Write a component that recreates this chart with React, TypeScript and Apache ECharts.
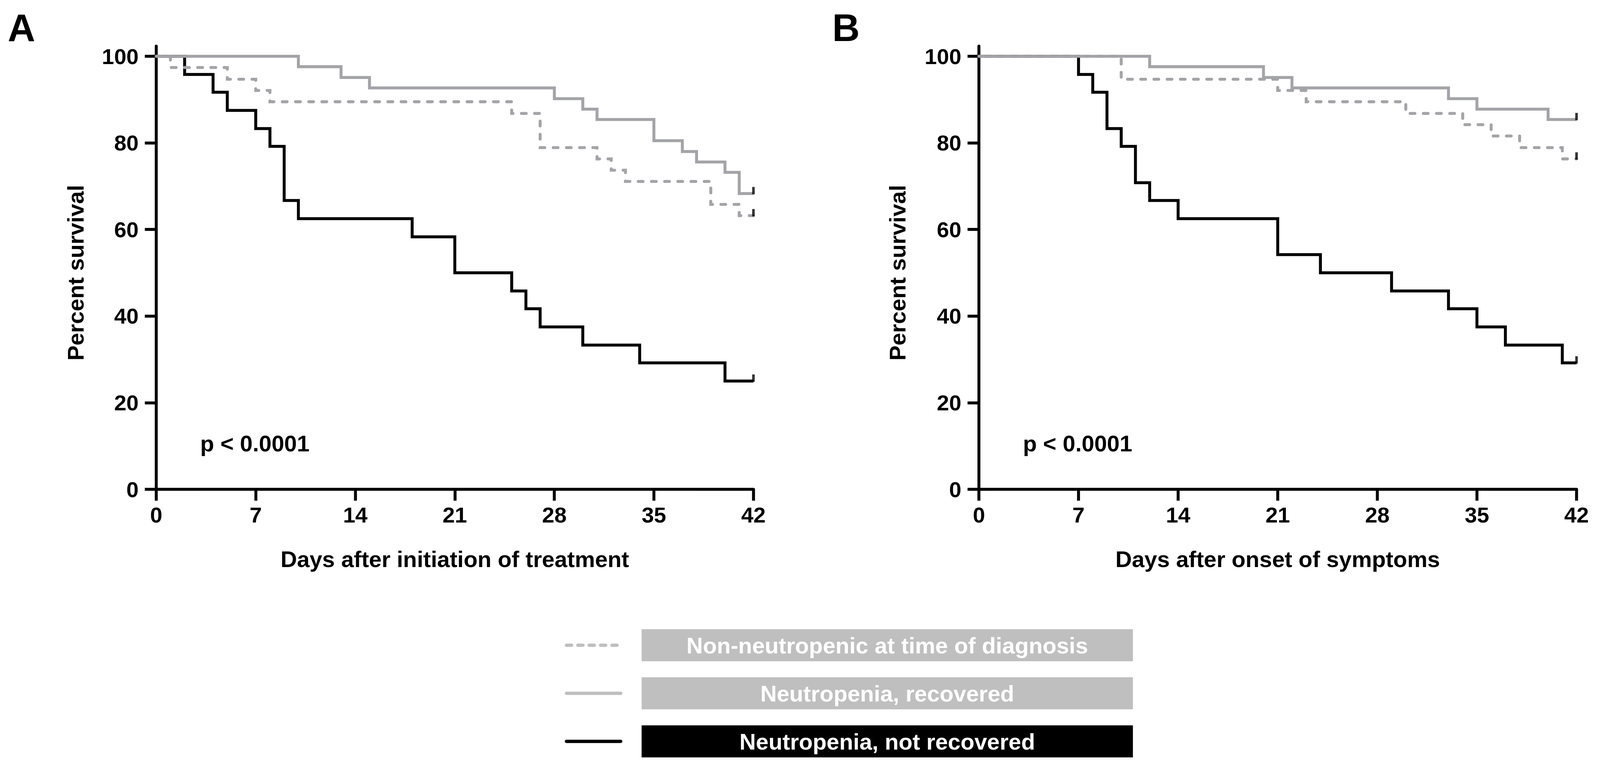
import React, { useEffect, useRef } from "react";
import * as echarts from "echarts";

const FONT = '"Liberation Sans", Arial, sans-serif';
const GRAY = "#a3a4a8";
const LEGEND_GRAY = "#bfbfbf";

const seriesNames = [
  "Non-neutropenic at time of diagnosis",
  "Neutropenia, recovered",
  "Neutropenia, not recovered",
];

const xTicks = [0, 7, 14, 21, 28, 35, 42];
const yTicks = [0, 20, 40, 60, 80, 100];

// Panel A: days after initiation of treatment
const daysA_non = [0, 1, 5, 7, 8, 25, 27, 31, 32, 33, 39, 41, 42];
const survA_non = [100, 97.4, 94.7, 92.1, 89.5, 86.8, 78.9, 76.3, 73.7, 71.1, 65.8, 63.2, 63.2];
const daysA_rec = [0, 10, 13, 15, 28, 30, 31, 35, 37, 38, 40, 41, 42];
const survA_rec = [100, 97.6, 95.1, 92.7, 90.2, 87.8, 85.4, 80.5, 78.0, 75.6, 73.2, 68.3, 68.3];
const daysA_not = [0, 2, 4, 5, 7, 8, 9, 10, 18, 21, 25, 26, 27, 30, 34, 40, 42];
const survA_not = [100, 95.8, 91.7, 87.5, 83.3, 79.2, 66.7, 62.5, 58.3, 50.0, 45.8, 41.7, 37.5, 33.3, 29.2, 25.0, 25.0];

// Panel B: days after onset of symptoms
const daysB_non = [0, 10, 21, 23, 30, 34, 36, 38, 41, 42];
const survB_non = [100, 94.7, 92.1, 89.5, 86.8, 84.2, 81.6, 78.9, 76.3, 76.3];
const daysB_rec = [0, 12, 20, 22, 33, 35, 40, 42];
const survB_rec = [100, 97.6, 95.1, 92.7, 90.2, 87.8, 85.4, 85.4];
const daysB_not = [0, 7, 8, 9, 10, 11, 12, 14, 21, 24, 29, 33, 35, 37, 41, 42];
const survB_not = [100, 95.8, 91.7, 83.3, 79.2, 70.8, 66.7, 62.5, 54.2, 50.0, 45.8, 41.7, 37.5, 33.3, 29.2, 29.2];

const xTitles = ["Days after initiation of treatment", "Days after onset of symptoms"];
const yTitle = "Percent survival";
const pText = "p < 0.0001";
const panelLetters = ["A", "B"];

const pairs = (d: number[], s: number[]) => d.map((x, i) => [x, s[i]]);
const last = (s: number[]) => s[s.length - 1];

export default function App() {
  const ref = useRef<HTMLDivElement>(null);
  useEffect(() => {
    document.body.style.margin = "0";
    const el = ref.current!;
    const W = el.clientWidth || 4364;
    const H = el.clientHeight || 1960;
    const sx = W / 4364;
    const sy = H / 1960;
    const s = Math.min(sx, sy);
    const X = (v: number) => v * sx;
    const Y = (v: number) => v * sy;
    const S = (v: number) => v * s;

    const chart = echarts.init(el, null, { renderer: "svg", width: W, height: H });

    const grids = [
      { left: X(426), top: Y(118), width: X(1629), height: Y(1134) },
      { left: X(2670), top: Y(118), width: X(1630), height: Y(1134) },
    ];

    const xAxis = [0, 1].map((g) => ({
      type: "value",
      gridIndex: g,
      min: xTicks[0],
      max: xTicks[xTicks.length - 1],
      interval: 7,
      axisLine: { show: true, lineStyle: { color: "#000", width: S(8) } },
      axisTick: { show: true, length: S(31), lineStyle: { color: "#000", width: S(8) } },
      axisLabel: { margin: S(40), color: "#000", fontSize: S(60), fontWeight: "bold", fontFamily: FONT },
      splitLine: { show: false },
    }));
    const yAxis = [0, 1].map((g) => ({
      type: "value",
      gridIndex: g,
      min: 0,
      max: 102.35,
      interval: 20,
      axisLine: { show: true, lineStyle: { color: "#000", width: S(8) } },
      axisTick: { show: true, length: S(31), lineStyle: { color: "#000", width: S(8) }, customValues: yTicks },
      axisLabel: { margin: S(48), color: "#000", fontSize: S(60), fontWeight: "bold", fontFamily: FONT, customValues: yTicks },
      splitLine: { show: false },
    }));

    const stepLine = (name: string, g: number, data: number[][], color: string, dashed: boolean) => ({
      name,
      type: "line",
      xAxisIndex: g,
      yAxisIndex: g,
      step: "end",
      symbol: "none",
      clip: false,
      data,
      lineStyle: {
        color,
        width: S(8),
        type: dashed ? [S(13), S(23)] : "solid",
        cap: dashed ? "round" : "butt",
        join: "miter",
      },
    });
    const censor = (g: number, vals: number[]) => ({
      name: "censored",
      type: "scatter",
      xAxisIndex: g,
      yAxisIndex: g,
      clip: false,
      symbol: "rect",
      symbolSize: [S(7), S(20)],
      symbolOffset: [0, -S(8)],
      itemStyle: { color: "#000" },
      data: vals.map((v) => [42, v]),
      z: 5,
    });

    const series = [
      stepLine(seriesNames[2], 0, pairs(daysA_not, survA_not), "#000", false),
      stepLine(seriesNames[0], 0, pairs(daysA_non, survA_non), GRAY, true),
      stepLine(seriesNames[1], 0, pairs(daysA_rec, survA_rec), GRAY, false),
      censor(0, [last(survA_non), last(survA_rec), last(survA_not)]),
      stepLine(seriesNames[2], 1, pairs(daysB_not, survB_not), "#000", false),
      stepLine(seriesNames[0], 1, pairs(daysB_non, survB_non), GRAY, true),
      stepLine(seriesNames[1], 1, pairs(daysB_rec, survB_rec), GRAY, false),
      censor(1, [last(survB_non), last(survB_rec), last(survB_not)]),
    ];

    const txt = (text: string, x: number, y: number, size: number, align: string, extra: any = {}) => ({
      type: "text",
      x: X(x),
      y: Y(y),
      rotation: extra.rotation || 0,
      style: {
        text,
        fill: extra.fill || "#000",
        fontSize: S(size),
        fontWeight: "bold",
        fontFamily: FONT,
        align,
        verticalAlign: "middle",
      },
    });

    const graphic: any[] = [
      txt(panelLetters[0], 21, 71, 104, "left"),
      txt(panelLetters[1], 2270, 71, 104, "left"),
      txt(yTitle, 206, 698, 62, "center", { rotation: Math.PI / 2 }),
      txt(yTitle, 2448, 698, 62, "center", { rotation: Math.PI / 2 }),
      txt(xTitles[0], (426 + 2055) / 2, 1430, 62, "center"),
      txt(xTitles[1], (2670 + 4300) / 2, 1430, 62, "center"),
      txt(pText, 546, 1134, 62, "left"),
      txt(pText, 2790, 1134, 62, "left"),
    ];

    const legendRows = [
      { y: 1651, stroke: LEGEND_GRAY, dash: [14, 17], box: LEGEND_GRAY },
      { y: 1774, stroke: LEGEND_GRAY, dash: null, box: LEGEND_GRAY },
      { y: 1897, stroke: "#000", dash: null, box: "#000" },
    ];
    legendRows.forEach((r, i) => {
      graphic.push({
        type: "line",
        shape: { x1: X(1545), y1: Y(r.y), x2: X(i === 0 ? 1688 : 1693), y2: Y(r.y) },
        style: {
          stroke: r.stroke,
          lineWidth: S(9),
          lineDash: r.dash ? r.dash.map(S) : undefined,
          lineCap: "round",
        },
      });
      graphic.push({
        type: "rect",
        shape: { x: X(1750), y: Y(r.y - 41), width: X(1340), height: Y(82) },
        style: { fill: r.box },
      });
      graphic.push(txt(seriesNames[i], 2420, r.y, 62, "center", { fill: "#fff" }));
    });

    chart.setOption({
      animation: false,
      backgroundColor: "#fff",
      grid: grids,
      xAxis,
      yAxis,
      series,
      graphic,
    });
    return () => chart.dispose();
  }, []);
  return (
    <div
      ref={ref}
      style={{
        position: "absolute",
        left: 0,
        top: 0,
        width: "100vw",
        height: "100vh",
        overflow: "hidden",
        background: "#fff",
      }}
    />
  );
}
